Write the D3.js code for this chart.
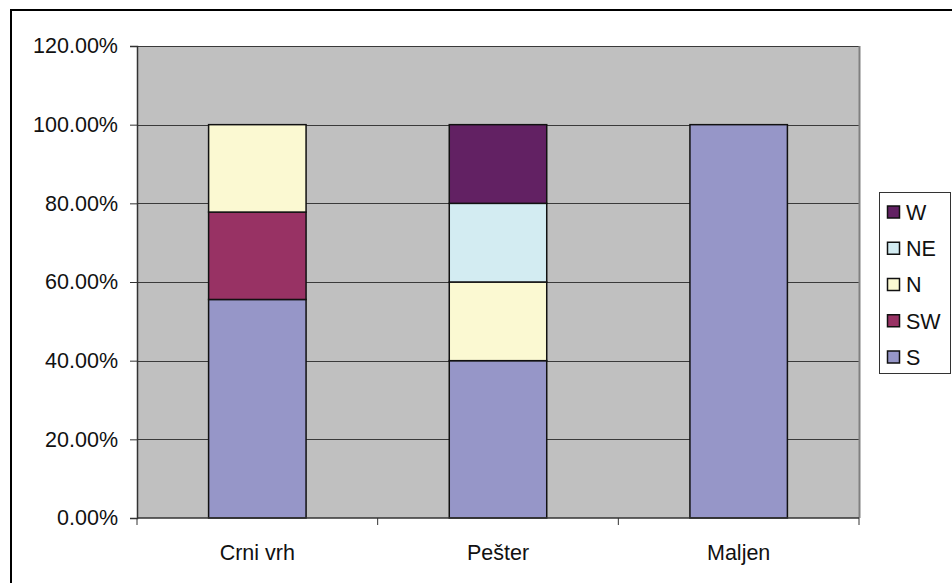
<!DOCTYPE html>
<html>
<head>
<meta charset="utf-8">
<script src="https://cdn.jsdelivr.net/npm/d3@7"></script>
<style>
  html, body { margin: 0; padding: 0; background: #fff; }
  svg { display: block; }
  text { font-family: "Liberation Sans", Arial, sans-serif; fill: #111; }
</style>
</head>
<body>
<svg id="chart" width="952" height="583"></svg>
<script>
// Share of each direction per site (stacked to 100%)
const categories = ["Crni vrh", "Pešter", "Maljen"];
const seriesNames = ["S", "SW", "N", "NE", "W"];
const sValues  = [5 / 9, 0.40, 1.00];
const swValues = [2 / 9, 0.00, 0.00];
const nValues  = [2 / 9, 0.20, 0.00];
const neValues = [0.00, 0.20, 0.00];
const wValues  = [0.00, 0.20, 0.00];
const yTicks = [0, 0.2, 0.4, 0.6, 0.8, 1.0, 1.2];
const legendOrder = ["W", "NE", "N", "SW", "S"];

const colors = {
  S: "#9696c8",
  SW: "#983264",
  N: "#fbf9d2",
  NE: "#d3ecf2",
  W: "#622163"
};

const rows = categories.map((c, i) => ({
  site: c,
  S: sValues[i], SW: swValues[i], N: nValues[i], NE: neValues[i], W: wValues[i]
}));

const svg = d3.select("#chart");
const plot = { left: 137, right: 859, top: 46, bottom: 518 };

// outer chart frame
svg.append("rect")
  .attr("x", 11).attr("y", 10)
  .attr("width", 1200).attr("height", 1200)
  .attr("fill", "none").attr("stroke", "#000").attr("stroke-width", 2);

const x = d3.scaleBand().domain(categories).range([plot.left, plot.right]).padding(0);
const y = d3.scaleLinear().domain([0, 1.2]).range([plot.bottom, plot.top]);

// plot background
svg.append("rect")
  .attr("x", plot.left).attr("y", plot.top)
  .attr("width", plot.right - plot.left).attr("height", plot.bottom - plot.top)
  .attr("fill", "#c0c0c0");

// horizontal gridlines
svg.append("g").selectAll("line")
  .data(yTicks.filter(t => t > 0))
  .join("line")
  .attr("x1", plot.left).attr("x2", plot.right)
  .attr("y1", d => Math.round(y(d)) + 0.5).attr("y2", d => Math.round(y(d)) + 0.5)
  .attr("stroke", "#3a3a3a").attr("stroke-width", 1);

// right edge of plot area
svg.append("line")
  .attr("x1", plot.right + 0.5).attr("x2", plot.right + 0.5)
  .attr("y1", plot.top).attr("y2", plot.bottom)
  .attr("stroke", "#808080").attr("stroke-width", 2);

// stacked bars
const stack = d3.stack().keys(seriesNames);
const layers = stack(rows);
const barW = x.bandwidth() * 0.405;

svg.append("g").selectAll("g")
  .data(layers)
  .join("g")
  .attr("fill", d => colors[d.key])
  .selectAll("rect")
  .data(d => d.filter(s => s[1] - s[0] > 0))
  .join("rect")
  .attr("x", d => x(d.data.site) + (x.bandwidth() - barW) / 2)
  .attr("y", d => y(d[1]))
  .attr("width", barW)
  .attr("height", d => y(d[0]) - y(d[1]))
  .attr("stroke", "#111").attr("stroke-width", 1.5);

// y axis
const yAxis = d3.axisLeft(y)
  .tickValues(yTicks)
  .tickSize(7)
  .tickPadding(12)
  .tickFormat(d => (d * 100).toFixed(2) + "%");

const yg = svg.append("g")
  .attr("transform", `translate(${plot.left},0)`)
  .call(yAxis);
yg.select(".domain").attr("stroke", "#333").attr("stroke-width", 1.5);
yg.selectAll(".tick line").attr("stroke", "#333");
yg.selectAll(".tick text")
  .style("font-size", "21.5px")
  .attr("fill", "#111");

// x axis: baseline, ticks between categories, labels centred
const xg = svg.append("g");
xg.append("line")
  .attr("x1", plot.left).attr("x2", plot.right)
  .attr("y1", plot.bottom).attr("y2", plot.bottom)
  .attr("stroke", "#333").attr("stroke-width", 1.5);

const boundaries = categories.map(c => x(c)).concat([x.range()[1]]);
xg.selectAll("line.tick")
  .data(boundaries)
  .join("line")
  .attr("class", "tick")
  .attr("x1", d => d).attr("x2", d => d)
  .attr("y1", plot.bottom).attr("y2", plot.bottom + 7)
  .attr("stroke", "#333");

xg.selectAll("text")
  .data(categories)
  .join("text")
  .attr("x", d => x(d) + x.bandwidth() / 2)
  .attr("y", 560)
  .attr("text-anchor", "middle")
  .style("font-size", "21.5px")
  .text(d => d);

// legend
const legend = svg.append("g");
legend.append("rect")
  .attr("x", 879.5).attr("y", 192.5)
  .attr("width", 71).attr("height", 181)
  .attr("fill", "#fff").attr("stroke", "#333").attr("stroke-width", 1);

const ly = d3.scalePoint().domain(legendOrder).range([212, 357]);
const items = legend.selectAll("g.item")
  .data(legendOrder)
  .join("g")
  .attr("class", "item")
  .attr("transform", d => `translate(0,${ly(d)})`);

items.append("rect")
  .attr("x", 887.5).attr("y", -6)
  .attr("width", 12).attr("height", 12)
  .attr("fill", d => colors[d])
  .attr("stroke", "#111").attr("stroke-width", 1.5);

items.append("text")
  .attr("x", 906)
  .attr("y", 0)
  .attr("dy", "0.36em")
  .style("font-size", "21.5px")
  .text(d => d);
</script>
</body>
</html>
